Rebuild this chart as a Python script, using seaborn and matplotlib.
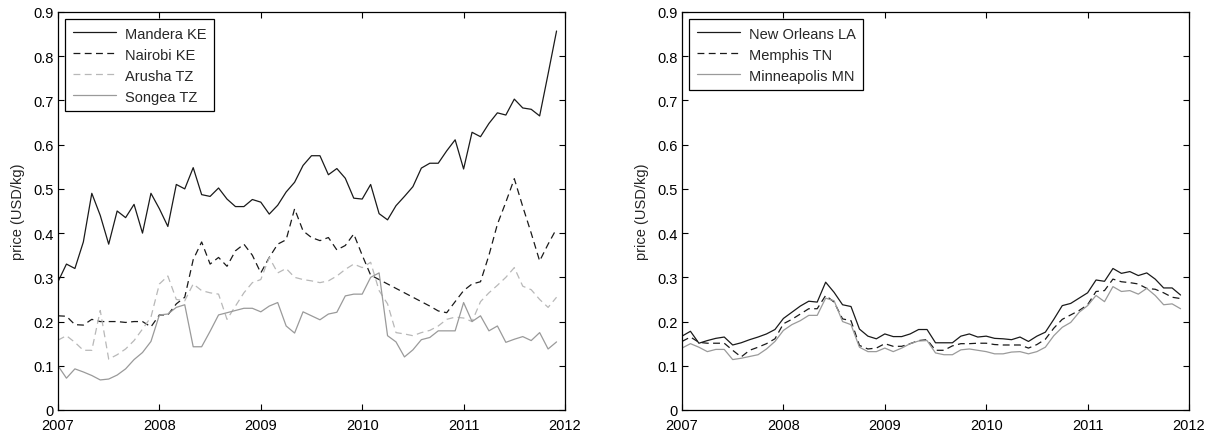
import numpy as np
import pandas as pd
import matplotlib
matplotlib.use("Agg")
import matplotlib.pyplot as plt
import seaborn as sns

# ---- data (monthly, Jan 2007 .. Dec 2011) ----
years = 2007 + np.arange(60) / 12.0

mandera = [0.29, 0.33, 0.32, 0.38, 0.49, 0.44, 0.375, 0.45, 0.435, 0.465, 0.40, 0.49,
           0.455, 0.415, 0.51, 0.50, 0.548, 0.487, 0.483, 0.502, 0.477, 0.46, 0.46, 0.476,
           0.47, 0.443, 0.463, 0.493, 0.515, 0.553, 0.575, 0.575, 0.532, 0.546, 0.524, 0.479,
           0.477, 0.51, 0.444, 0.43, 0.462, 0.483, 0.505, 0.547, 0.558, 0.558, 0.586, 0.611,
           0.545, 0.628, 0.618, 0.648, 0.672, 0.667, 0.703, 0.683, 0.68, 0.665, 0.76, 0.857]
nairobi = [0.213, 0.212, 0.193, 0.192, 0.205, 0.2, 0.2, 0.2, 0.198, 0.2, 0.2, 0.188,
           0.215, 0.215, 0.24, 0.255, 0.34, 0.38, 0.33, 0.345, 0.325, 0.36, 0.375, 0.35,
           0.31, 0.345, 0.375, 0.385, 0.455, 0.405, 0.39, 0.383, 0.39, 0.362, 0.372, 0.398,
           0.35, 0.305, 0.295, 0.285, 0.275, 0.265, 0.255, 0.245, 0.235, 0.224, 0.22, 0.245,
           0.27, 0.285, 0.29, 0.35, 0.42, 0.47, 0.523, 0.46, 0.40, 0.337, 0.375, 0.41]
arusha = [0.158, 0.168, 0.153, 0.135, 0.135, 0.225, 0.115, 0.125, 0.138, 0.157, 0.183, 0.21,
          0.285, 0.303, 0.25, 0.247, 0.285, 0.27, 0.265, 0.262, 0.205, 0.235, 0.265, 0.288,
          0.295, 0.345, 0.31, 0.32, 0.30, 0.295, 0.292, 0.288, 0.292, 0.303, 0.318, 0.33,
          0.322, 0.334, 0.27, 0.24, 0.175, 0.172, 0.168, 0.175, 0.18, 0.19, 0.205, 0.21,
          0.208, 0.20, 0.245, 0.265, 0.282, 0.30, 0.322, 0.28, 0.272, 0.25, 0.232, 0.255]
songea = [0.10, 0.072, 0.093, 0.086, 0.078, 0.068, 0.07, 0.079, 0.093, 0.114, 0.13, 0.155,
          0.215, 0.217, 0.232, 0.238, 0.143, 0.143, 0.178, 0.215, 0.22, 0.225, 0.23, 0.23,
          0.222, 0.235, 0.243, 0.19, 0.174, 0.222, 0.213, 0.204, 0.217, 0.221, 0.258, 0.262,
          0.262, 0.30, 0.31, 0.168, 0.154, 0.12, 0.136, 0.159, 0.164, 0.179, 0.179, 0.179,
          0.243, 0.20, 0.213, 0.179, 0.19, 0.153, 0.16, 0.166, 0.157, 0.175, 0.138, 0.154]

new_orleans = [0.167, 0.178, 0.151, 0.157, 0.162, 0.165, 0.147, 0.152, 0.159, 0.165, 0.172, 0.182,
               0.207, 0.221, 0.235, 0.246, 0.244, 0.289, 0.266, 0.238, 0.234, 0.183, 0.167, 0.161,
               0.172, 0.166, 0.166, 0.172, 0.182, 0.182, 0.152, 0.152, 0.152, 0.167, 0.172, 0.165,
               0.167, 0.162, 0.161, 0.159, 0.165, 0.155, 0.167, 0.176, 0.205, 0.236, 0.241, 0.253,
               0.265, 0.294, 0.291, 0.32, 0.309, 0.313, 0.304, 0.31, 0.296, 0.276, 0.276, 0.26]
memphis = [0.155, 0.165, 0.153, 0.151, 0.151, 0.151, 0.135, 0.12, 0.135, 0.142, 0.15, 0.161,
           0.195, 0.205, 0.217, 0.229, 0.229, 0.259, 0.244, 0.206, 0.202, 0.146, 0.138, 0.14,
           0.15, 0.144, 0.144, 0.15, 0.157, 0.159, 0.135, 0.135, 0.145, 0.15, 0.15, 0.151,
           0.151, 0.148, 0.147, 0.147, 0.147, 0.14, 0.148, 0.16, 0.185, 0.205, 0.215, 0.225,
           0.238, 0.268, 0.27, 0.296, 0.29, 0.288, 0.285, 0.275, 0.273, 0.265, 0.255, 0.252]
minneapolis = [0.14, 0.15, 0.142, 0.132, 0.137, 0.137, 0.114, 0.117, 0.121, 0.125, 0.138, 0.155,
               0.18, 0.193, 0.202, 0.214, 0.214, 0.253, 0.247, 0.20, 0.193, 0.142, 0.132, 0.132,
               0.14, 0.132, 0.14, 0.15, 0.156, 0.157, 0.129, 0.125, 0.125, 0.136, 0.138, 0.135,
               0.132, 0.127, 0.127, 0.131, 0.132, 0.127, 0.132, 0.142, 0.168, 0.187, 0.198, 0.221,
               0.236, 0.259, 0.245, 0.279, 0.268, 0.27, 0.262, 0.275, 0.259, 0.238, 0.24, 0.229]

left_labels = ["Mandera KE", "Nairobi KE", "Arusha TZ", "Songea TZ"]
right_labels = ["New Orleans LA", "Memphis TN", "Minneapolis MN"]
x_ticks = [2007, 2008, 2009, 2010, 2011, 2012]
y_ticks = [0, 0.1, 0.2, 0.3, 0.4, 0.5, 0.6, 0.7, 0.8, 0.9]
y_tick_labels = ["0", "0.1", "0.2", "0.3", "0.4", "0.5", "0.6", "0.7", "0.8", "0.9"]
ylabel = "price (USD/kg)"

# ---- styling ----
sns.set_style("ticks")
plt.rcParams["font.family"] = ["Liberation Sans", "DejaVu Sans"]
plt.rcParams["font.size"] = 10.5

DASH = (0, (5.5, 3.5))
left_styles = [("#1a1a1a", "-"), ("#1a1a1a", DASH), ("#b8b8b8", DASH), ("#9a9a9a", "-")]
right_styles = [("#1a1a1a", "-"), ("#1a1a1a", DASH), ("#9a9a9a", "-")]

fig = plt.figure(figsize=(12.14, 4.35), dpi=100)
ax1 = fig.add_axes([58 / 1214, 1 - 411 / 435, 507 / 1214, 398 / 435])
ax2 = fig.add_axes([682 / 1214, 1 - 411 / 435, 507 / 1214, 398 / 435])


def draw(ax, series, labels, styles):
    for vals, lab, (col, ls) in zip(series, labels, styles):
        df = pd.DataFrame({"year": years, "price": vals})
        sns.lineplot(data=df, x="year", y="price", ax=ax, color=col,
                     linestyle=ls, linewidth=0.9, label=lab)
    ax.set_xlim(2007, 2012)
    ax.set_ylim(0, 0.9)
    ax.set_xticks(x_ticks)
    ax.set_xticklabels([str(t) for t in x_ticks])
    ax.set_yticks(y_ticks)
    ax.set_yticklabels(y_tick_labels)
    ax.set_xlabel("")
    ax.set_ylabel(ylabel, fontsize=10.5, labelpad=6)
    for s in ax.spines.values():
        s.set_visible(True)
        s.set_color("black")
        s.set_linewidth(0.9)
    ax.tick_params(direction="in", length=4.5, width=0.8, top=True, right=True,
                   labelsize=10.5, colors="black", pad=3)
    ax.tick_params(axis="x", pad=6)
    leg = ax.legend(loc="upper left", frameon=True, fancybox=False,
                    edgecolor="black", framealpha=1, borderaxespad=0.5,
                    handlelength=3.0, labelspacing=0.48, borderpad=0.5,
                    handletextpad=0.6, fontsize=10.5)
    leg.get_frame().set_linewidth(0.9)


draw(ax1, [mandera, nairobi, arusha, songea], left_labels, left_styles)
draw(ax2, [new_orleans, memphis, minneapolis], right_labels, right_styles)

fig.savefig("out.png", dpi=100)
